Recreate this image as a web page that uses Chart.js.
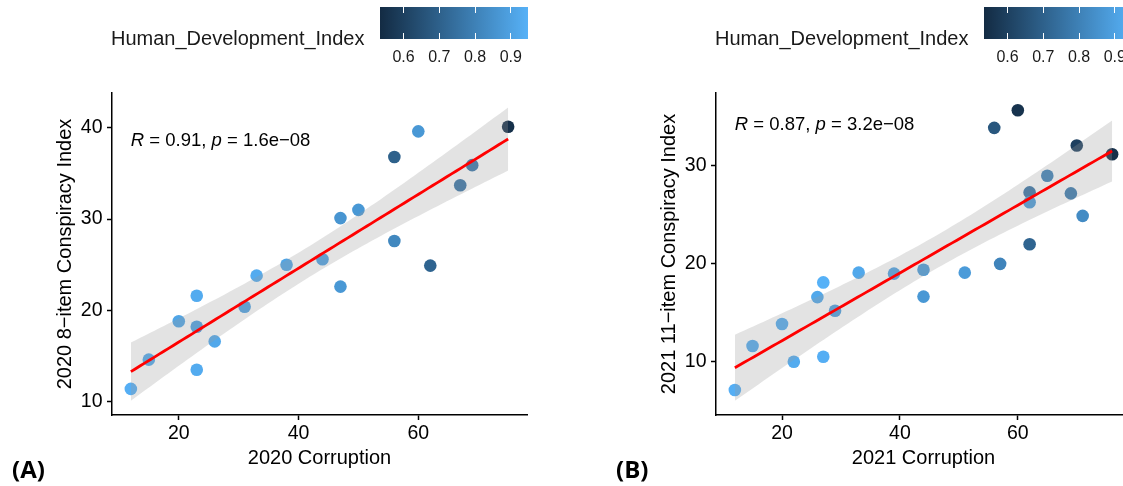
<!DOCTYPE html>
<html>
<head>
<meta charset="utf-8">
<script src="https://cdn.jsdelivr.net/npm/chart.js@4.4.1/dist/chart.umd.min.js"></script>
<style>
  html, body { margin: 0; padding: 0; background: #fff; }
  body { width: 1123px; height: 486px; overflow: hidden; position: relative; font-family: "Liberation Sans", Arial, sans-serif; }
  .panel { position: absolute; top: 0; width: 604px; height: 486px; }
  .legend-title { position: absolute; left: 111px; top: 27px; font-size: 20px; line-height: 22px; color: #1a1a1a; white-space: nowrap; }
  .bar { position: absolute; left: 380px; top: 7px; width: 148px; height: 32px; }
  .bar-tick { position: absolute; width: 1px; height: 6px; background: #fff; }
  .bar-label { position: absolute; top: 48px; font-size: 16px; line-height: 18px; color: #1a1a1a; transform: translateX(-50%); }
  .tag { position: absolute; left: 12px; top: 454px; font-family: "Open Sans", sans-serif; font-weight: bold; font-size: 24px; line-height: 30px; }
</style>
</head>
<body>
<div class="panel" id="panelA" style="left:0px"><canvas id="chartA" width="604" height="486"></canvas></div>
<div class="panel" id="panelB" style="left:604px"><canvas id="chartB" width="604" height="486"></canvas></div>
<script>
/* Escala de cor do Human_Development_Index */
const hdiTicks = [0.6, 0.7, 0.8, 0.9];
const hdiMin = 0.534;
const hdiMax = 0.948;
const hdiLow = [19, 43, 67];     // #132B43
const hdiHigh = [86, 177, 247];  // #56B1F7

/* Painel A: 2020 */
const corruption2020 = [75, 60, 56, 69, 67, 50, 47, 56, 62, 44, 38, 33, 47, 23, 20, 23, 31, 26, 15, 23, 12];
const conspiracy2020 = [40.1, 39.6, 36.8, 35.9, 33.7, 31.0, 30.1, 27.6, 24.9, 25.6, 25.0, 23.8, 22.6, 21.6, 18.8, 18.2, 20.4, 16.6, 14.6, 13.5, 11.4];
const hdi2020 = [0.55, 0.87, 0.70, 0.77, 0.76, 0.87, 0.86, 0.82, 0.71, 0.90, 0.91, 0.93, 0.87, 0.93, 0.91, 0.90, 0.90, 0.92, 0.92, 0.93, 0.94];
const xTicks2020 = [20, 40, 60];
const yTicks2020 = [10, 20, 30, 40];

/* Painel B: 2021 */
const corruption2021 = [60, 56, 70, 76, 65, 62, 62, 69, 71, 62, 57, 51, 44, 39, 33, 27, 26, 44, 29, 20, 15, 22, 27, 12];
const conspiracy2021 = [35.7, 33.9, 32.1, 31.2, 29.0, 27.3, 26.3, 27.2, 24.9, 22.0, 20.0, 19.1, 19.4, 19.0, 19.1, 18.1, 16.6, 16.65, 15.2, 13.85, 11.6, 10.0, 10.5, 7.1];
const hdi2021 = [0.56, 0.67, 0.60, 0.55, 0.80, 0.76, 0.88, 0.78, 0.83, 0.71, 0.81, 0.88, 0.88, 0.90, 0.92, 0.95, 0.92, 0.87, 0.89, 0.93, 0.93, 0.93, 0.94, 0.94];
const xTicks2021 = [20, 40, 60];
const yTicks2021 = [10, 20, 30];

Chart.defaults.font.family = '"Liberation Sans", Arial, sans-serif';
Chart.defaults.color = '#000';

/* Converte um valor de HDI numa cor do gradiente */
function hdiColor(v) {
    const t = Math.min(1, Math.max(0, (v - hdiMin) / (hdiMax - hdiMin)));
    const c = hdiLow.map((lo, i) => Math.round(lo + (hdiHigh[i] - lo) * t));
    return `rgb(${c[0]},${c[1]},${c[2]})`;
}

/* Ajuste linear simples (como geom_smooth method = "lm") */
function linFit(xs, ys) {
    const n = xs.length;
    const mx = xs.reduce((s, v) => s + v, 0) / n;
    const my = ys.reduce((s, v) => s + v, 0) / n;
    let sxx = 0, sxy = 0;
    xs.forEach((x, i) => { sxx += (x - mx) ** 2; sxy += (x - mx) * (ys[i] - my); });
    const b = sxy / sxx;
    const a = my - b * mx;
    let sse = 0;
    xs.forEach((x, i) => { sse += (ys[i] - a - b * x) ** 2; });
    const s = Math.sqrt(sse / (n - 2));
    return { fit: x => a + b * x, se: x => s * Math.sqrt(1 / n + (x - mx) ** 2 / sxx) };
}

/* Legenda em HTML (titulo + barra de cores) */
function buildLegend(panelId) {
    const panel = document.getElementById(panelId);
    const title = document.createElement('div');
    title.className = 'legend-title';
    title.textContent = 'Human_Development_Index';
    panel.appendChild(title);
    const bar = document.createElement('div');
    bar.className = 'bar';
    bar.style.background = `linear-gradient(to right, ${hdiColor(hdiMin)}, ${hdiColor(hdiMax)})`;
    panel.appendChild(bar);
    hdiTicks.forEach(v => {
        const px = (v - hdiMin) / (hdiMax - hdiMin) * 148;
        [0, 26].forEach(top => {
            const tk = document.createElement('div');
            tk.className = 'bar-tick';
            tk.style.left = (px - 0.5) + 'px';
            tk.style.top = top + 'px';
            bar.appendChild(tk);
        });
        const lb = document.createElement('div');
        lb.className = 'bar-label';
        lb.style.left = (380 + px) + 'px';
        lb.textContent = v.toFixed(1);
        panel.appendChild(lb);
    });
}

/* Texto R / p no canto superior esquerdo */
const corLabelPlugin = {
    id: 'corLabel',
    afterDatasetsDraw(chart, args, o) {
        const ctx = chart.ctx;
        let x = chart.scales.x.getPixelForValue(o.x);
        const y = chart.scales.y.getPixelForValue(o.y);
        const parts = [['R', true], [' = ' + o.r + ', ', false], ['p', true], [' = ' + o.p, false]];
        ctx.save();
        ctx.textBaseline = 'middle';
        ctx.fillStyle = '#000';
        parts.forEach(([t, it]) => {
            ctx.font = (it ? 'italic ' : '') + '18.5px "Liberation Sans", Arial, sans-serif';
            ctx.fillText(t, x, y);
            x += ctx.measureText(t).width;
        });
        ctx.restore();
    }
};

/* Cria um grafico de dispersao com reta e intervalo de confianca */
function makeChart(id, xs, ys, hdi, cfg) {
    const model = linFit(xs, ys);
    const x0 = Math.min(...xs), x1 = Math.max(...xs);
    const grid = Array.from({ length: 81 }, (_, i) => x0 + (x1 - x0) * i / 80);
    const fitLine = grid.map(x => ({ x, y: model.fit(x) }));
    const upper = grid.map(x => ({ x, y: model.fit(x) + cfg.tCrit * model.se(x) }));
    const lower = grid.map(x => ({ x, y: model.fit(x) - cfg.tCrit * model.se(x) }));
    const points = xs.map((x, i) => ({ x, y: ys[i] }));

    const axisBase = {
        type: 'linear',
        grid: { drawOnChartArea: false, drawTicks: true, tickLength: 5, tickColor: '#000', tickWidth: 1.5 },
        border: { display: true, color: '#000', width: 1.5 },
    };

    return new Chart(document.getElementById(id), {
        type: 'scatter',
        data: {
            datasets: [
                { type: 'line', data: fitLine, borderColor: '#ff0000', borderWidth: 2.8, pointRadius: 0, fill: false, order: 0 },
                { type: 'line', data: upper, borderColor: 'transparent', borderWidth: 0, pointRadius: 0, fill: '+1', backgroundColor: 'rgba(153,153,153,0.28)', order: 1 },
                { type: 'line', data: lower, borderColor: 'transparent', borderWidth: 0, pointRadius: 0, fill: false, order: 1 },
                { type: 'scatter', data: points, pointRadius: 6.3, pointBackgroundColor: hdi.map(hdiColor), pointBorderWidth: 0, order: 2 },
            ],
        },
        options: {
            responsive: false,
            animation: false,
            layout: { padding: { top: 93, right: 77, left: 0, bottom: 0 } },
            plugins: {
                legend: { display: false },
                tooltip: { enabled: false },
                corLabel: cfg.label,
            },
            scales: {
                x: {
                    ...axisBase,
                    min: cfg.xRange[0], max: cfg.xRange[1],
                    afterBuildTicks: s => { s.ticks = cfg.xTicks.map(v => ({ value: v })); },
                    afterFit: s => { s.height = 71; },
                    ticks: { font: { size: 19.5 }, color: '#000', padding: 2, maxRotation: 0 },
                    title: { display: true, text: cfg.xTitle, font: { size: 20 }, color: '#000', padding: { top: 0, bottom: 16 } },
                },
                y: {
                    ...axisBase,
                    min: cfg.yRange[0], max: cfg.yRange[1],
                    afterBuildTicks: s => { s.ticks = cfg.yTicks.map(v => ({ value: v })); },
                    afterFit: s => { s.width = 112; },
                    ticks: { font: { size: 19.5 }, color: '#000', padding: 4.5 },
                    title: { display: true, text: cfg.yTitle, font: { size: 20 }, color: '#000', padding: { top: 53, bottom: 0 } },
                },
            },
        },
        plugins: [corLabelPlugin],
    });
}

makeChart('chartA', corruption2020, conspiracy2020, hdi2020, {
    tCrit: 2.093,
    xRange: [8.85, 78.15], yRange: [8.54, 43.8],
    xTicks: xTicks2020, yTicks: yTicks2020,
    xTitle: '2020 Corruption', yTitle: '2020 8\u2212item Conspiracy Index',
    label: { x: 12, y: 38.6, r: '0.91', p: '1.6e\u221208' },
});

makeChart('chartB', corruption2021, conspiracy2021, hdi2021, {
    tCrit: 2.074,
    xRange: [8.8, 79.2], yRange: [4.55, 37.46],
    xTicks: xTicks2021, yTicks: yTicks2021,
    xTitle: '2021 Corruption', yTitle: '2021 11\u2212item Conspiracy Index',
    label: { x: 12, y: 34.2, r: '0.87', p: '3.2e\u221208' },
});

buildLegend('panelA');
buildLegend('panelB');

/* Etiquetas (A) e (B) */
[['panelA', '(A)'], ['panelB', '(B)']].forEach(([pid, txt]) => {
    const tag = document.createElement('div');
    tag.className = 'tag';
    tag.textContent = txt;
    document.getElementById(pid).appendChild(tag);
});
</script>
</body>
</html>
